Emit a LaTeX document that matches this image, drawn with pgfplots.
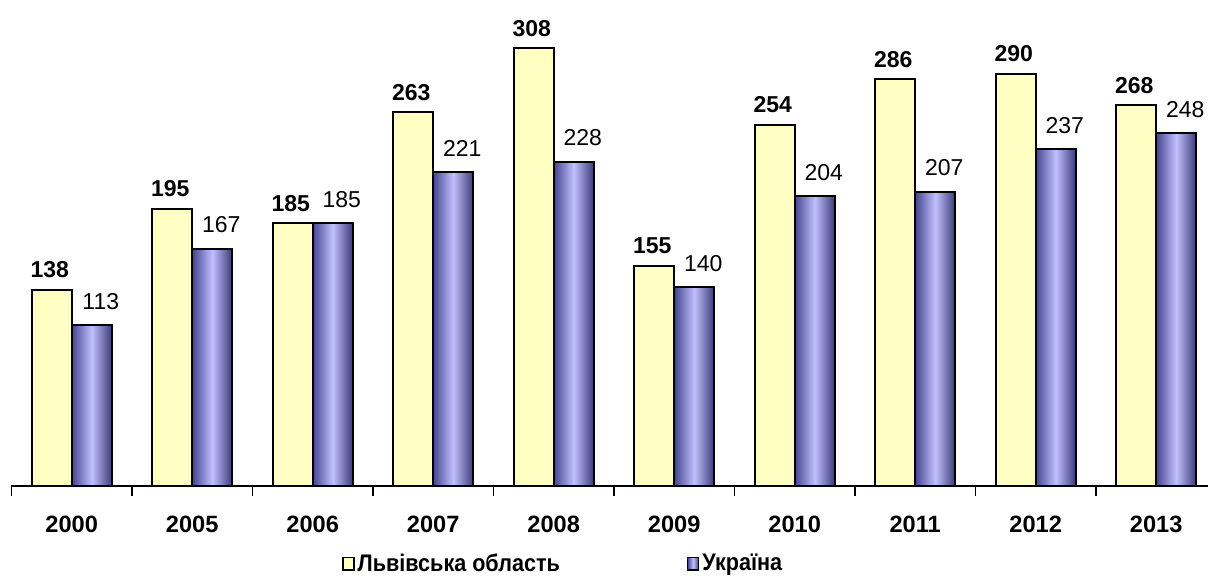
\documentclass[border=0pt]{standalone}
\usepackage{pgfplots}
\pgfplotsset{compat=1.18}
\usepackage{fontspec}
\setmainfont{Liberation Sans}
\newfontfamily\legfont[FakeStretch=0.9]{Liberation Sans}
\definecolor{ylw}{HTML}{FFFFC4}
\definecolor{bdark}{HTML}{45458F}
\definecolor{blight}{HTML}{C0C0FF}
\begin{document}
\begin{tikzpicture}
\useasboundingbox (0,0) rectangle (604pt,288.5pt);
\begin{axis}[
  at={(5.75pt,45.5pt)}, anchor=south west,
  scale only axis, width=598.25pt, height=243pt,
  ymin=0, ymax=341.8,
  xmin=-0.5, xmax=9.43,
  ybar=0pt, bar width=0.332,
  axis x line*=bottom, axis y line=none,
  axis line style={line width=0.8pt, -},
  xtick={0,...,9},
  xticklabels={2000,2005,2006,2007,2008,2009,2010,2011,2012,2013},
  major x tick style={draw=none},
  minor xtick={-0.5,0.5,...,9.5},
  minor x tick style={black, line width=0.8pt},
  minor tick length=5pt,
  tick align=outside,
  xticklabel style={font=\fontsize{11.8}{13}\selectfont\bfseries, yshift=-7pt},
  clip=false,
  /pgf/number format/assume math mode=true,
  legend columns=2,
  legend style={at={(0.4615,-0.16)}, anchor=center, draw=none, fill=none,
    font=\fontsize{12}{13}\selectfont\legfont\bfseries,
    nodes={inner xsep=1.5pt},
    /tikz/every even column/.append style={column sep=62pt}},
  legend image code/.code={\draw[#1, line width=0.8pt] (0pt,-3.2pt) rectangle (5.5pt,3.2pt);},
  ukr/.style={draw=black, line width=1pt, left color=bdark, right color=bdark!85!black, middle color=blight,
    bar shift=0.166,
    nodes near coords, every node near coord/.append style={font=\fontsize{11.5}{13}\selectfont, black, yshift=4pt, xshift=4.5pt}},
]
\addplot+[draw=black, line width=1pt, fill=ylw, bar shift=-0.166,
  nodes near coords, every node near coord/.append style={font=\fontsize{11.5}{13}\selectfont\bfseries, black, yshift=2pt, xshift=-1pt}]
  coordinates {(0,138) (1,195) (2,185) (3,263) (4,308) (5,155) (6,254) (7,286) (8,290) (9,268)};
\addlegendentry{Львівська область}
\addplot+[ukr] coordinates {(0,113)};
\addlegendentry{Україна}
\addplot+[ukr, forget plot] coordinates {(1,167)};
\addplot+[ukr, forget plot] coordinates {(2,185)};
\addplot+[ukr, forget plot] coordinates {(3,221)};
\addplot+[ukr, forget plot] coordinates {(4,228)};
\addplot+[ukr, forget plot] coordinates {(5,140)};
\addplot+[ukr, forget plot] coordinates {(6,204)};
\addplot+[ukr, forget plot] coordinates {(7,207)};
\addplot+[ukr, forget plot] coordinates {(8,237)};
\addplot+[ukr, forget plot] coordinates {(9,248)};
\end{axis}
\end{tikzpicture}
\end{document}
